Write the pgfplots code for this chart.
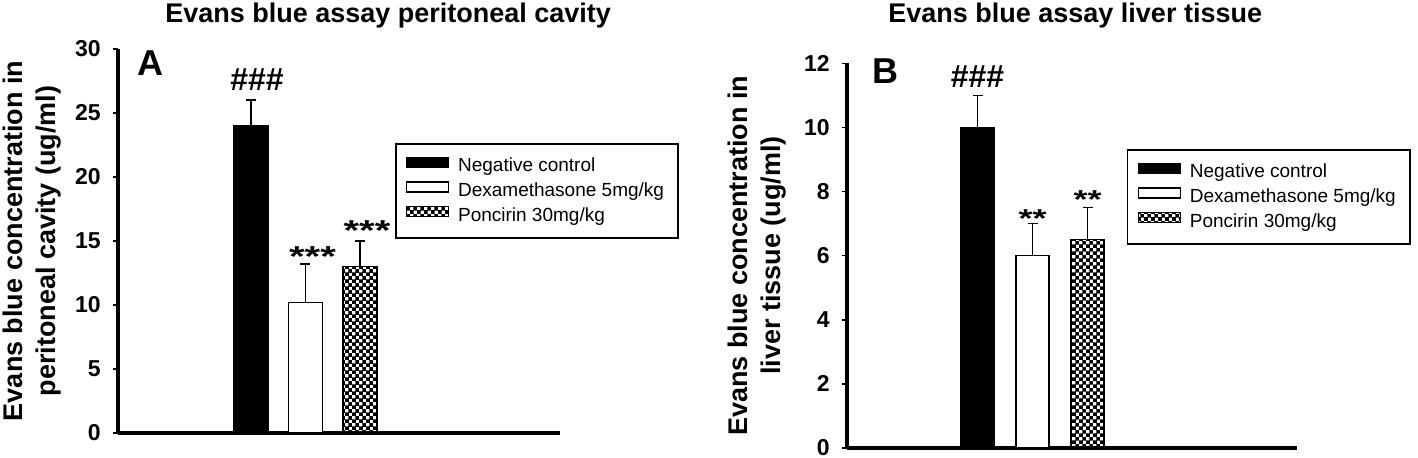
\documentclass[border=0pt]{standalone}
\usepackage{pgfplots}
\pgfplotsset{compat=1.18}
\usepackage{graphicx}
\usepackage{fontspec}
\setmainfont{Liberation Sans}
\usetikzlibrary{patterns}
\pgfdeclarepatternformonly{mychecker}{\pgfqpoint{0pt}{0pt}}{\pgfqpoint{3.6pt}{3.6pt}}{\pgfqpoint{3.6pt}{3.6pt}}{%
  \pgfpathrectangle{\pgfqpoint{0pt}{0pt}}{\pgfqpoint{2.05pt}{2.05pt}}%
  \pgfpathrectangle{\pgfqpoint{1.8pt}{1.8pt}}{\pgfqpoint{2.05pt}{2.05pt}}%
  \pgfusepath{fill}}
\tikzset{
  hashlbl/.style={font=\fontsize{16pt}{16pt}\selectfont\bfseries, anchor=base, inner sep=0pt},
  starlbl/.style={font=\fontsize{20pt}{20pt}\selectfont\bfseries, anchor=base, inner sep=0pt},
  letterlbl/.style={anchor=base west, font=\fontsize{18pt}{18pt}\selectfont\bfseries, inner sep=0pt},
  titlelbl/.style={anchor=base west, font=\fontsize{13.5pt}{13.5pt}\selectfont\bfseries, inner sep=0pt},
}
\newcommand{\stars}[1]{\scalebox{1}[0.72]{#1}}
\pgfplotsset{
  panel/.style={
    scale only axis,
    axis x line*=bottom, axis y line*=left,
    axis line style={line width=2pt, -},
    xtick=\empty,
    tick align=outside,
    major tick length=2.5pt,
    ytick style={line width=0.75pt, black},
    /pgf/number format/assume math mode=true,
    yticklabel style={font=\fontsize{11.5pt}{12pt}\selectfont\bfseries, inner sep=0pt, xshift=-6pt},
    ylabel style={font=\fontsize{13.5pt}{16.5pt}\selectfont\bfseries, align=center, anchor=north, inner sep=0pt},
    legend style={anchor=north west, draw=black, line width=0.75pt,
      font=\fontsize{9.5pt}{12pt}\selectfont, inner xsep=5pt, inner ysep=5pt, row sep=0pt,
      cells={anchor=west},
      /tikz/every odd column/.append style={column sep=2.5pt}},
    ymin=0, clip=false,
  },
  mybar/.style={ybar, bar shift=0pt, draw=black, line width=0.75pt,
    legend image code/.code={\draw[##1, line width=0.6pt] (0pt,-0.5pt) rectangle (21pt,4.5pt);},
    error bars/y dir=plus, error bars/y explicit,
    error bars/error bar style={line width=0.75pt, black},
    error bars/error mark options={rotate=90, mark size=2.5pt, line width=0.75pt, black}},
}
\begin{document}
\begin{tikzpicture}
\useasboundingbox (0,0) rectangle (709pt,229pt);
% Panel A
\begin{axis}[panel,
  at={(59pt,12.5pt)}, anchor=south west,
  width=221pt, height=192pt,
  xmin=-1.44, xmax=6.67, ymax=30,
  ytick={0,5,10,15,20,25,30},
  ylabel={Evans blue concentration in\\peritoneal cavity (ug/ml)},
  ylabel style={at={(axis description cs:-0.262,0.5)}},
  legend style={at={(0.627,0.755)}},
]
\addplot[mybar, bar width=0.624, fill=black] coordinates {(1,24) +- (0,2)};
\addlegendentry{Negative control}
\addplot[mybar, bar width=0.624, fill=white] coordinates {(2,10.2) +- (0,3)};
\addlegendentry{Dexamethasone 5mg/kg\hspace{4pt}}
\addplot[mybar, bar width=0.624, pattern=mychecker, pattern color=black] coordinates {(3,13) +- (0,2)};
\addlegendentry{Poncirin 30mg/kg}
\node[hashlbl, xshift=3pt, yshift=5pt] at (axis cs:1,26) {\#\#\#};
\node[starlbl, xshift=3.5pt, yshift=-1pt] at (axis cs:2,13.2) {\stars{***}};
\node[starlbl, xshift=3.5pt, yshift=0pt] at (axis cs:3,15) {\stars{***}};
\node[letterlbl] at (rel axis cs:0.043,0.932) {A};
\node[titlelbl] at (rel axis cs:0.106,1.07) {Evans blue assay peritoneal cavity};
\end{axis}
% Panel B
\begin{axis}[panel,
  at={(423.5pt,5pt)}, anchor=south west,
  width=225pt, height=192.35pt,
  xmin=-1.373, xmax=6.809, ymax=12,
  ytick={0,2,4,6,8,10,12},
  ylabel={Evans blue concentration in\\liver tissue (ug/ml)},
  ylabel style={at={(axis description cs:-0.265,0.5)}},
  legend style={at={(0.622,0.777)}},
]
\addplot[mybar, bar width=0.6, fill=black] coordinates {(1,10) +- (0,1)};
\addlegendentry{Negative control}
\addplot[mybar, bar width=0.6, fill=white] coordinates {(2,6) +- (0,1)};
\addlegendentry{Dexamethasone 5mg/kg\hspace{4pt}}
\addplot[mybar, bar width=0.6, pattern=mychecker, pattern color=black] coordinates {(3,6.5) +- (0,1)};
\addlegendentry{Poncirin 30mg/kg}
\node[hashlbl, yshift=4pt] at (axis cs:1,11) {\#\#\#};
\node[starlbl, font=\fontsize{18pt}{18pt}\selectfont\bfseries, yshift=-1.9pt] at (axis cs:2,7) {\stars{**}};
\node[starlbl, font=\fontsize{18pt}{18pt}\selectfont\bfseries, yshift=-0.6pt] at (axis cs:3,7.5) {\stars{**}};
\node[letterlbl] at (rel axis cs:0.056,0.948) {B};
\node[titlelbl] at (rel axis cs:0.091,1.106) {Evans blue assay liver tissue};
\end{axis}
\end{tikzpicture}
\end{document}
